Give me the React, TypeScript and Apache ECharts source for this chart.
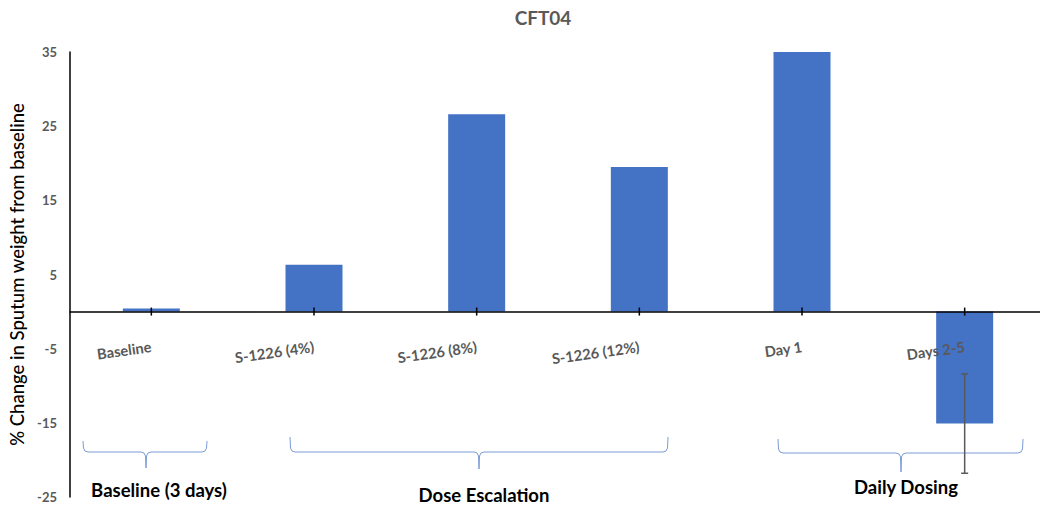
import React, { useEffect, useRef } from "react";
import * as echarts from "echarts";

const categories = ["Baseline", "S-1226 (4%)", "S-1226 (8%)", "S-1226 (12%)", "Day 1", "Days 2-5"];
const values = [0.4, 6.3, 26.6, 19.5, 35, -15.1];
const errLow: (number | null)[] = [null, null, null, null, null, -21.8];
const errHigh: (number | null)[] = [null, null, null, null, null, -8.4];
const yTicks = { min: -25, max: 35, interval: 10 };
const groupLabels = ["Baseline (3 days)", "Dose Escalation", "Daily Dosing"];

const FONT = "Lato, 'Open Sans', sans-serif";

function brace(x0: number, x1: number, cx: number, top: number, h: number, tip: number) {
  return [
    [x0, top], [x0 + 0.5, h - 4], [x0 + 2, h - 1], [x0 + 5, h],
    [cx - 5, h], [cx - 2, h + 1], [cx - 0.5, h + 4], [cx, tip],
    [cx + 0.5, h + 4], [cx + 2, h + 1], [cx + 5, h],
    [x1 - 5, h], [x1 - 2, h - 1], [x1 - 0.5, h - 4], [x1, top],
  ];
}

export default function App() {
  const ref = useRef<HTMLDivElement>(null);
  useEffect(() => {
    if (!ref.current) return;
    const chart = echarts.init(ref.current, null, { renderer: "svg" });
    const errData = categories
      .map((_, i) => (errLow[i] != null ? [i, errLow[i], errHigh[i]] : null))
      .filter((d) => d !== null);
    const tickData = categories.map((_, i) => [i, 0]);
    const braceStyle = { stroke: "#7A9BD6", lineWidth: 1, fill: "none" };
    const groupText = (text: string, x: number, y: number) => ({
      type: "text",
      x,
      y,
      style: { text, fontFamily: FONT, fontSize: 18.5, fontWeight: "bold", fill: "#000", align: "center", verticalAlign: "middle" },
    });
    chart.setOption({
      animation: false,
      backgroundColor: "#fff",
      title: {
        text: "CFT04",
        left: 543,
        top: 8,
        padding: 0,
        textAlign: "center",
        textStyle: { fontFamily: FONT, fontSize: 19, fontWeight: "bold", color: "#595959" },
      },
      grid: { left: 70, top: 52, width: 976, height: 445, containLabel: false, outerBoundsMode: "none" },
      xAxis: {
        type: "category",
        data: categories,
        z: 10,
        axisLine: { onZero: true, lineStyle: { color: "#000", width: 1.5 } },
        axisTick: { show: false },
        axisLabel: { show: false },
      },
      yAxis: {
        type: "value",
        min: yTicks.min,
        max: yTicks.max,
        interval: yTicks.interval,
        name: "% Change in Sputum weight from baseline",
        nameLocation: "middle",
        nameGap: 44,
        nameTextStyle: { fontFamily: FONT, fontSize: 18.5, fontWeight: 500, color: "#000" },
        axisLine: { show: true, lineStyle: { color: "#000", width: 1.5 } },
        axisTick: { show: false },
        splitLine: { show: false },
        axisLabel: { margin: 13, fontFamily: FONT, fontSize: 13, fontWeight: "bold", color: "#595959" },
      },
      series: [
        {
          type: "bar",
          data: values,
          barWidth: 57,
          itemStyle: { color: "#4472C4" },
        },
        {
          type: "custom",
          data: tickData,
          z: 6,
          silent: true,
          renderItem: (params: any, api: any) => {
            const i = api.value(0);
            const p = api.coord([i, api.value(1)]);
            return {
              type: "group",
              children: [
                {
                  type: "line",
                  shape: { x1: p[0], y1: p[1] - 4, x2: p[0], y2: p[1] + 4 },
                  style: { stroke: "#000", lineWidth: 1.5 },
                },
                {
                  type: "text",
                  x: p[0],
                  y: p[1] + 35,
                  rotation: (8 * Math.PI) / 180,
                  style: {
                    text: categories[i],
                    fontFamily: FONT,
                    fontSize: 14.7,
                    fontWeight: "bold",
                    fill: "#595959",
                    align: "right",
                    verticalAlign: "middle",
                  },
                },
              ],
            };
          },
        },
        {
          type: "custom",
          data: errData,
          z: 5,
          renderItem: (params: any, api: any) => {
            const x = api.value(0);
            const lo = api.coord([x, api.value(1)]);
            const hi = api.coord([x, api.value(2)]);
            const w = 3.5;
            const style = { stroke: "#595959", lineWidth: 1.5 };
            return {
              type: "group",
              children: [
                { type: "line", shape: { x1: lo[0], y1: lo[1], x2: hi[0], y2: hi[1] }, style },
                { type: "line", shape: { x1: lo[0] - w, y1: lo[1], x2: lo[0] + w, y2: lo[1] }, style },
                { type: "line", shape: { x1: hi[0] - w, y1: hi[1], x2: hi[0] + w, y2: hi[1] }, style },
              ],
            };
          },
        },
      ],
      graphic: [
        { type: "polyline", shape: { points: brace(83, 207, 146, 441, 452, 468) }, style: braceStyle },
        { type: "polyline", shape: { points: brace(290, 668, 479, 437, 452, 469) }, style: braceStyle },
        { type: "polyline", shape: { points: brace(778, 1023, 901, 439, 453, 472) }, style: braceStyle },
        groupText(groupLabels[0], 159, 490),
        groupText(groupLabels[1], 484, 495),
        groupText(groupLabels[2], 906, 487),
      ],
    });
    return () => chart.dispose();
  }, []);
  return (
    <div
      ref={ref}
      style={{ position: "fixed", left: 0, top: 0, width: 1040, height: 507, background: "#fff" }}
    />
  );
}
